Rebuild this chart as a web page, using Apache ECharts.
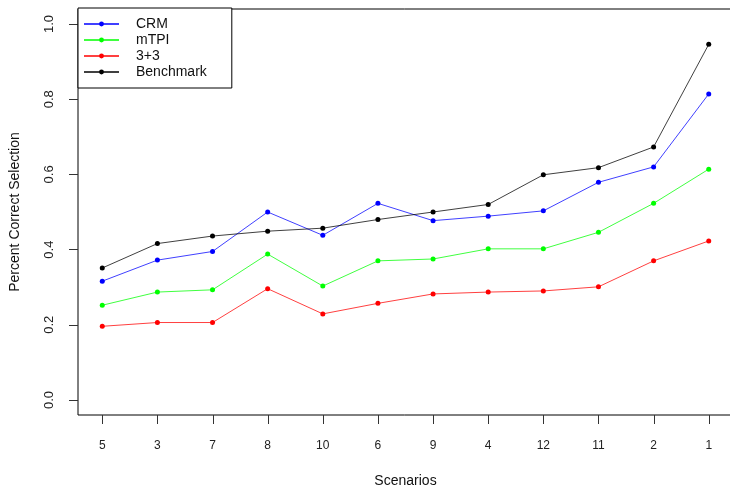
<!DOCTYPE html>
<html>
<head>
<meta charset="utf-8">
<script src="https://cdn.jsdelivr.net/npm/echarts@6/dist/echarts.min.js"></script>
<style>
  html, body { margin: 0; padding: 0; background: #fff; }
  #chart { width: 730px; height: 488px; }
</style>
</head>
<body>
<div id="chart"></div>
<script>
var scenarios = ['5', '3', '7', '8', '10', '6', '9', '4', '12', '11', '2', '1'];
var yTicks = [0, 0.2, 0.4, 0.6, 0.8, 1.0];

var crm       = [0.316, 0.372, 0.395, 0.500, 0.438, 0.523, 0.477, 0.489, 0.503, 0.579, 0.620, 0.814];
var mtpi      = [0.252, 0.287, 0.293, 0.388, 0.303, 0.370, 0.375, 0.402, 0.402, 0.446, 0.523, 0.614];
var threePlus = [0.196, 0.206, 0.206, 0.296, 0.229, 0.257, 0.282, 0.287, 0.290, 0.301, 0.370, 0.423];
var benchmark = [0.351, 0.416, 0.436, 0.449, 0.457, 0.480, 0.500, 0.520, 0.599, 0.618, 0.673, 0.946];

var yMin = -0.04;
var yMax = 1.04;

var chart = echarts.init(document.getElementById('chart'));

// x positions are 1..n, like R's default plotting index
function toPoints(values) {
    return values.map(function (v, i) {
        return [i + 1, v];
    });
}

function makeSeries(name, values, color) {
    return {
        name: name,
        type: 'line',
        data: toPoints(values),
        symbol: 'circle',
        symbolSize: 5,
        itemStyle: { color: color },
        lineStyle: { color: color, width: 1, opacity: 0.75 },
        emphasis: { disabled: true }
    };
}

var xPositions = scenarios.map(function (s, i) { return i + 1; });
var labelFont = 'Liberation Sans, Arial, sans-serif';

// x ticks hang below the frame; axis ticks would not show there, so draw them from the axis scale
var tickSeries = {
    type: 'custom',
    data: xPositions.map(function (x) { return [x]; }),
    clip: false,
    silent: true,
    renderItem: function (params, api) {
        var p = api.coord([api.value(0), yMin]);
        var x = Math.round(p[0]) + 0.5;
        return {
            type: 'line',
            shape: { x1: x, y1: p[1], x2: x, y2: p[1] + 9 },
            style: { stroke: '#333', lineWidth: 1 }
        };
    }
};

var option = {
    animation: false,
    backgroundColor: '#fff',
    grid: {
        left: 78,
        top: 9,
        width: 655,
        height: 406,
        outerBoundsMode: 'none',
        containLabel: false,
        show: true,
        borderColor: '#000',
        borderWidth: 1
    },
    legend: {
        orient: 'vertical',
        left: 78,
        top: 8,
        padding: [8, 25, 8, 5],
        itemWidth: 35,
        itemHeight: 6,
        itemGap: 0,
        backgroundColor: '#fff',
        borderColor: '#000',
        borderWidth: 1,
        borderRadius: 0,
        textStyle: {
            fontFamily: labelFont,
            fontSize: 14,
            color: '#111',
            lineHeight: 16,
            padding: [0, 0, 0, 12]
        },
        data: ['CRM', 'mTPI', '3+3', 'Benchmark']
    },
    xAxis: {
        type: 'value',
        min: 0.56,
        max: 12.44,
        name: 'Scenarios',
        nameLocation: 'middle',
        nameGap: 59,
        nameTextStyle: { fontFamily: labelFont, fontSize: 14, color: '#111' },
        splitLine: { show: false },
        axisLine: { show: false, onZero: false },
        axisTick: { show: false },
        axisLabel: {
            customValues: xPositions,
            margin: 25,
            fontFamily: labelFont,
            fontSize: 12,
            color: '#222',
            formatter: function (v) {
                return scenarios[Math.round(v) - 1];
            }
        }
    },
    yAxis: {
        type: 'value',
        min: yMin,
        max: yMax,
        name: 'Percent Correct Selection',
        nameLocation: 'middle',
        nameGap: 56,
        nameTextStyle: { fontFamily: labelFont, fontSize: 14, color: '#111' },
        splitLine: { show: false },
        axisLine: { show: false, onZero: false },
        axisTick: {
            show: true,
            length: 9,
            customValues: yTicks,
            lineStyle: { color: '#333' }
        },
        axisLabel: {
            customValues: yTicks,
            rotate: 90,
            margin: 22,
            fontFamily: labelFont,
            fontSize: 13,
            color: '#222',
            formatter: function (v) {
                return v.toFixed(1);
            }
        }
    },
    series: [
        makeSeries('CRM', crm, '#0000ff'),
        makeSeries('mTPI', mtpi, '#00ff00'),
        makeSeries('3+3', threePlus, '#ff0000'),
        makeSeries('Benchmark', benchmark, '#000000'),
        tickSeries
    ]
};

chart.setOption(option);
</script>
</body>
</html>
